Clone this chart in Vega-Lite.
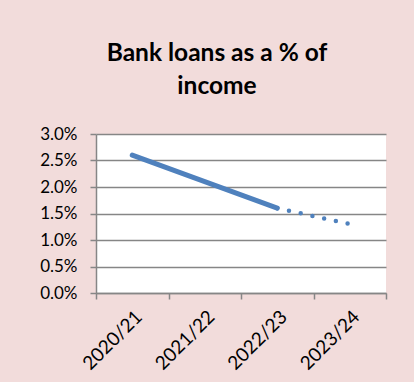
{
  "$schema": "https://vega.github.io/schema/vega-lite/v6.json",
  "width": 290,
  "height": 159,
  "autosize": {"type": "none"},
  "padding": {"left": 96, "top": 134, "right": 28, "bottom": 89},
  "background": "#F2DCDB",
  "title": {
    "text": ["Bank loans as a % of", "income"],
    "font": "Lato",
    "fontSize": 24.5,
    "fontWeight": "bold",
    "color": "#000000",
    "lineHeight": 33,
    "anchor": "middle",
    "frame": "group",
    "dx": -24,
    "offset": 26
  },
  "config": {
    "view": {"stroke": null, "fill": "#FFFFFF"},
    "axis": {
      "labelFont": "Lato",
      "labelFontSize": 17,
      "labelColor": "#000000",
      "domainColor": "#868686",
      "domainWidth": 1.5,
      "tickColor": "#868686",
      "tickWidth": 1.5,
      "tickSize": 6,
      "gridColor": "#868686",
      "gridWidth": 1.5,
      "title": null
    }
  },
  "data": {
    "values": [
      {"year": "2020/21", "value": 0.026, "series": "Actual"},
      {"year": "2021/22", "value": 0.021, "series": "Actual"},
      {"year": "2022/23", "value": 0.016, "series": "Actual"},
      {"year": "2022/23", "value": 0.016, "series": "Forecast"},
      {"year": "2023/24", "value": 0.013, "series": "Forecast"}
    ]
  },
  "encoding": {
    "x": {
      "field": "year",
      "type": "ordinal",
      "scale": {"paddingInner": 0, "paddingOuter": 0},
      "axis": {"labelAngle": -45, "tickBand": "extent", "grid": false, "labelPadding": 8, "labelFontSize": 19, "title": null}
    },
    "y": {
      "field": "value",
      "type": "quantitative",
      "scale": {"domain": [0, 0.03]},
      "axis": {"format": ".1%", "values": [0, 0.005, 0.01, 0.015, 0.02, 0.025, 0.03], "grid": true, "labelPadding": 13, "title": null}
    }
  },
  "layer": [
    {
      "transform": [{"filter": "datum.series === 'Actual'"}],
      "mark": {"type": "line", "color": "#4F81BD", "strokeWidth": 5, "strokeCap": "round", "strokeJoin": "round"}
    },
    {
      "transform": [{"filter": "datum.series === 'Forecast'"}],
      "mark": {"type": "line", "color": "#4F81BD", "strokeWidth": 4.5, "strokeCap": "round", "strokeDash": [0, 12]}
    }
  ]
}
